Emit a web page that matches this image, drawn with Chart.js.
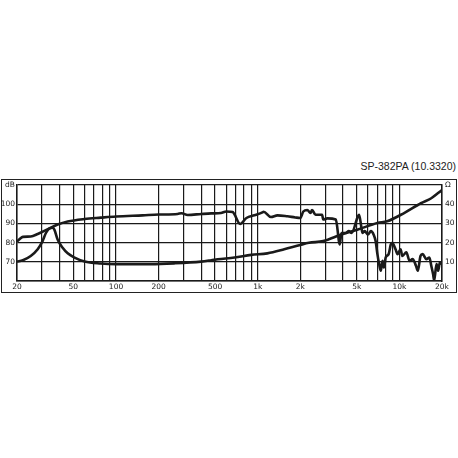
<!DOCTYPE html>
<html>
<head>
<meta charset="utf-8">
<script src="https://cdn.jsdelivr.net/npm/chart.js@4/dist/chart.umd.min.js"></script>
<style>
  body { margin: 0; background: #fff; }
  #wrap { position: relative; width: 458px; height: 458px; }
  #frame { position: absolute; left: 1px; top: 179px; width: 456px; height: 114px; box-sizing: border-box; border: 1.5px solid #222; }
  #title { position: absolute; right: 2px; top: 160px; font: 10.5px "Liberation Sans", Arial, sans-serif; color: #222; }
  canvas { position: absolute; left: 0; top: 0; }
</style>
</head>
<body>
<div id="wrap">
  <div id="frame"></div>
  <div id="title">SP-382PA (10.3320)</div>
  <canvas id="c" width="458" height="458"></canvas>
</div>
<script>
// frequency response (dB SPL)
const splFreq = [20, 21, 22, 25, 28, 33, 38.7, 45.6, 60, 78, 100, 154, 200, 272, 290, 320, 400, 470, 550, 600, 665, 752, 833, 948, 1080, 1100, 1240, 1380, 1620, 1840, 2000, 2100, 2240, 2360, 2420, 2560, 2850, 2900, 3100, 3560, 3800, 3900, 4200, 4400, 4600, 5100, 5200, 5400, 5500, 5700, 6000, 6300, 6600, 6800, 7000, 7200, 7400, 7600, 7800, 8000, 8400, 8700, 8900, 9400, 9700, 10200, 10500, 11200, 11800, 12400, 13100, 13500, 14100, 14600, 15500, 16300, 16800, 17300, 17600, 18300, 18800, 19300, 20000];
const splDb = [80.5, 82, 83, 83.2, 84.5, 87, 89.4, 91, 92.3, 93, 93.6, 94.2, 94.6, 94.9, 95.3, 94.4, 94.9, 95.2, 95.4, 96.2, 95.9, 89.7, 92.8, 94.2, 95.7, 96.1, 93.3, 94.2, 93.7, 93.1, 92.8, 96.2, 97, 95.4, 97, 94.5, 94.5, 92, 92.6, 92, 79.1, 85, 85, 86, 85, 93.7, 94.5, 87.7, 85, 86, 84.2, 86, 84, 80.8, 74, 68.8, 65.3, 70.5, 67, 72.2, 74, 79, 79.9, 76.5, 74, 76.5, 73, 75, 70.5, 71.4, 67.9, 65.3, 73, 74, 71.4, 72.2, 67.9, 63.6, 60.2, 68.8, 65.3, 69.6, 68.8];

// impedance (ohm)
const impFreq = [20, 22, 25, 28, 30.3, 32, 34, 35.5, 36.7, 38.7, 42, 45.6, 51, 60, 78, 100, 176, 258, 398, 470, 522, 686, 900, 1170, 1540, 2000, 2300, 2900, 3900, 5100, 7000, 8200, 10800, 14200, 16800, 20000];
const impOhm = [10.1, 10.8, 13, 16.5, 20.8, 25, 27.5, 27.7, 26.8, 21.6, 17.3, 14.4, 12.2, 10.1, 9.1, 8.8, 8.8, 9.2, 10.1, 10.8, 11.3, 12.2, 13.6, 14.4, 16.5, 18.8, 19.9, 20.8, 24.2, 26.8, 30.2, 31.1, 35.4, 40.5, 43.1, 47.4];

// axis ticks
const gridFreqs = [20, 30, 40, 50, 60, 70, 80, 90, 100, 200, 300, 400, 500, 600, 700, 800, 900, 1000, 2000, 3000, 4000, 5000, 6000, 7000, 8000, 9000, 10000, 20000];
const freqLabels = { 20: '20', 50: '50', 100: '100', 200: '200', 500: '500', 1000: '1k', 2000: '2k', 5000: '5k', 10000: '10k', 20000: '20k' };
const dbLabels = [70, 80, 90, 100];
const ohmLabels = [10, 20, 30, 40];

const ink = '#1a1a1a';
const tickFont = { family: 'DejaVu Sans', size: 7.5 };

new Chart(document.getElementById('c'), {
    type: 'line',
    data: {
        datasets: [
            {
                data: splFreq.map((f, i) => ({ x: f, y: splDb[i] })),
                yAxisID: 'y',
                borderColor: ink,
                borderWidth: 2.6,
                pointRadius: 0,
                cubicInterpolationMode: 'monotone',
            },
            {
                data: impFreq.map((f, i) => ({ x: f, y: impOhm[i] })),
                yAxisID: 'y2',
                borderColor: ink,
                borderWidth: 2.6,
                pointRadius: 0,
                cubicInterpolationMode: 'monotone',
            },
        ],
    },
    options: {
        responsive: false,
        animation: false,
        devicePixelRatio: 1,
        layout: { padding: { left: 1, right: 0, top: 185, bottom: 165 } },
        plugins: { legend: { display: false }, tooltip: { enabled: false } },
        scales: {
            x: {
                type: 'logarithmic',
                min: 20,
                max: 20000,
                afterBuildTicks: (s) => { s.ticks = gridFreqs.map(v => ({ value: v })); },
                afterFit: (s) => { s.height = 12; },
                ticks: {
                    autoSkip: false,
                    maxRotation: 0,
                    padding: 2,
                    color: ink,
                    font: tickFont,
                    callback: (v) => freqLabels[v] || '',
                },
                grid: { color: ink, lineWidth: 1.2, drawTicks: false },
                border: { color: ink, width: 1.5 },
            },
            y: {
                min: 60,
                max: 110,
                afterBuildTicks: (s) => { s.ticks = [60, 65, 70, 75, 80, 85, 90, 95, 100, 105, 110].map(v => ({ value: v })); },
                afterFit: (s) => { s.width = 16; },
                ticks: {
                    padding: 2,
                    color: ink,
                    font: tickFont,
                    callback: (v) => v === 110 ? 'dB' : (dbLabels.includes(v) ? v : ''),
                },
                grid: { color: ink, lineWidth: 1.2, drawTicks: false },
                border: { color: ink, width: 1.5 },
            },
            y2: {
                position: 'right',
                min: 0,
                max: 50,
                afterBuildTicks: (s) => { s.ticks = [0, 10, 20, 30, 40, 50].map(v => ({ value: v })); },
                afterFit: (s) => { s.width = 16; },
                ticks: {
                    padding: 3,
                    color: ink,
                    font: tickFont,
                    callback: (v) => v === 50 ? 'Ω' : (ohmLabels.includes(v) ? v : ''),
                },
                grid: { display: false, drawTicks: false },
                border: { color: ink, width: 1.5 },
            },
        },
    },
});
</script>
</body>
</html>
